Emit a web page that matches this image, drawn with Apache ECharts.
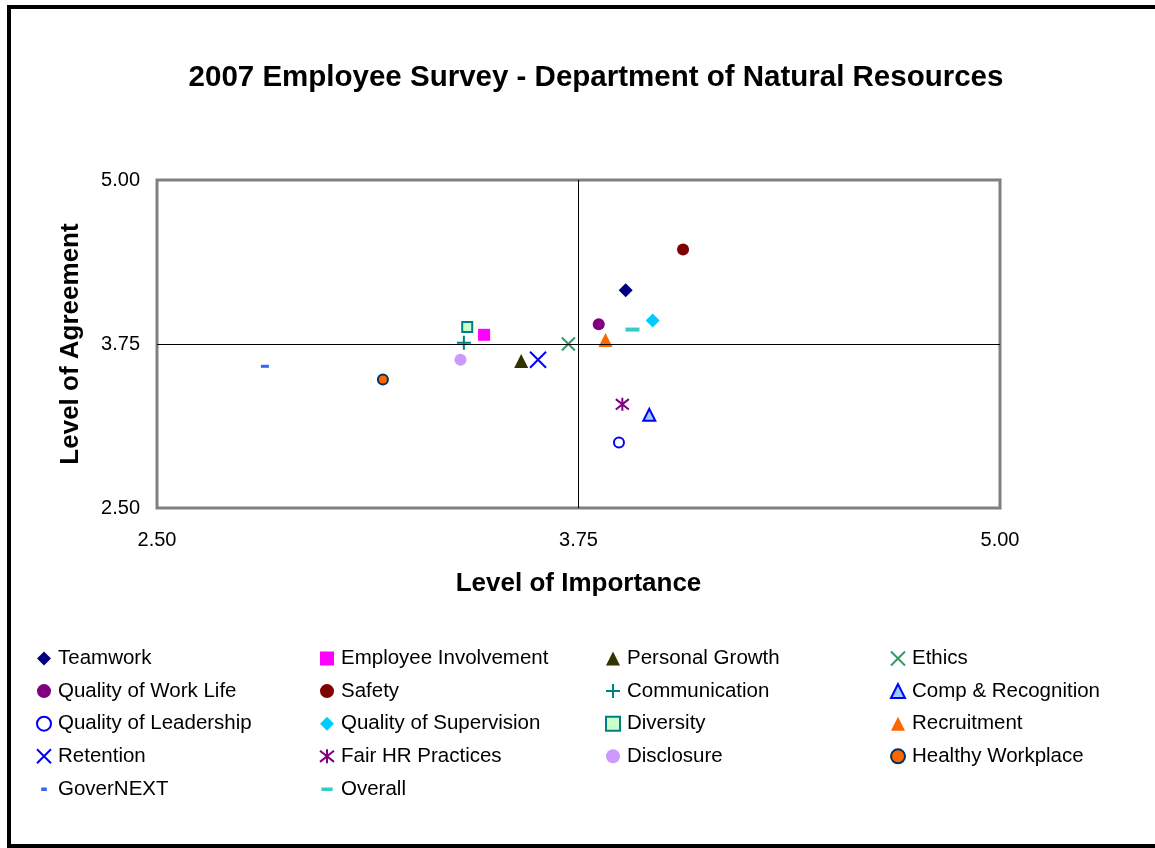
<!DOCTYPE html>
<html>
<head>
<meta charset="utf-8">
<script src="https://cdn.jsdelivr.net/npm/echarts@6/dist/echarts.min.js"></script>
<style>
html,body{margin:0;padding:0;background:#fff;}
#chart{width:1155px;height:848px;}
</style>
</head>
<body>
<div id="chart"></div>
<script>
// ---- data ----
const categories = ['Teamwork','Employee Involvement','Personal Growth','Ethics',
  'Quality of Work Life','Safety','Communication','Comp & Recognition',
  'Quality of Leadership','Quality of Supervision','Diversity','Recruitment',
  'Retention','Fair HR Practices','Disclosure','Healthy Workplace',
  'GoverNEXT','Overall'];
const importance = [3.89,3.47,3.58,3.72, 3.81,4.06,3.41,3.96, 3.87,3.97,3.42,3.83, 3.63,3.88,3.40,3.17, 2.82,3.91];
const agreement  = [4.16,3.82,3.62,3.75, 3.90,4.47,3.76,3.21, 3.00,3.93,3.88,3.78, 3.63,3.29,3.63,3.48, 3.58,3.86];
const xTicks = [2.50, 3.75, 5.00];
const yTicks = [2.50, 3.75, 5.00];
const midValue = 3.75;

// ---- styles ----
const X_PATH = 'path://M0,0L10,10M10,0L0,10';
const PLUS_PATH = 'path://M5,0L5,10M0,5L10,5';
const AST_PATH = 'path://M0,1L10,9M10,1L0,9M5,0L5,10';
const DASH_PATH = 'path://M0,0L10,0L10,4L0,4Z';
const styles = [
  {symbol:'diamond', size:14, color:'#000080'},
  {symbol:'rect', size:12, color:'#FF00FF'},
  {symbol:'triangle', size:14, color:'#333300'},
  {symbol:X_PATH, size:13, color:'transparent', border:'#339966', bw:2},
  {symbol:'circle', size:12, color:'#800080'},
  {symbol:'circle', size:12, color:'#800000'},
  {symbol:PLUS_PATH, size:14, color:'transparent', border:'#008080', bw:2},
  {symbol:'triangle', size:12, color:'#99CCFF', border:'#0000FF', bw:2},
  {symbol:'circle', size:10, color:'#FFFFFF', border:'#0000FF', bw:2},
  {symbol:'diamond', size:14, color:'#00CCFF'},
  {symbol:'rect', size:10, color:'#CCFFCC', border:'#008080', bw:2},
  {symbol:'triangle', size:14, color:'#FF6600'},
  {symbol:X_PATH, size:16, color:'transparent', border:'#0000FF', bw:2},
  {symbol:AST_PATH, size:13, color:'transparent', border:'#800080', bw:2},
  {symbol:'circle', size:12, color:'#CC99FF'},
  {symbol:'circle', size:10, color:'#FF6600', border:'#003366', bw:2},
  {symbol:DASH_PATH, size:[8,3], color:'#3366FF', legendIcon:'path://M0,0M10,10M3,4L7,4L7,6.5L3,6.5Z'},
  {symbol:DASH_PATH, size:[14,4], color:'#33CCCC', legendIcon:'path://M0,0M10,10M1,4L9,4L9,6.5L1,6.5Z'}
];

const series = categories.map((name, i) => {
  const s = styles[i];
  return {
    name: name,
    type: 'scatter',
    symbol: s.symbol,
    symbolSize: s.size,
    itemStyle: {
      color: s.color,
      borderColor: s.border || s.color,
      borderWidth: s.bw || 0,
      opacity: 1
    },
    emphasis: {disabled: true},
    data: [[importance[i], agreement[i]]],
    z: 3
  };
});

// crosshair through the midpoints
series.push({
  name: '__cross',
  type: 'scatter',
  data: [],
  silent: true,
  markLine: {
    silent: true,
    symbol: 'none',
    animation: false,
    label: {show: false},
    lineStyle: {color: '#000', width: 1, type: 'solid'},
    emphasis: {disabled: true},
    data: [{xAxis: midValue}, {yAxis: midValue}]
  },
  z: 1
});

const FONT = 'Arial, "Liberation Sans", sans-serif';

function legendCol(idx, left) {
  const names = [];
  for (let r = 0; r < 5; r++) {
    const k = r * 4 + idx;
    if (k < categories.length) {
      const item = {name: categories[k]};
      if (styles[k].legendIcon) item.icon = styles[k].legendIcon;
      names.push(item);
    }
  }
  return {
    orient: 'vertical',
    left: left,
    top: 648,
    itemWidth: 14,
    itemHeight: 14,
    itemGap: 11.6,
    padding: 0,
    selectedMode: false,
    textStyle: {fontFamily: FONT, fontSize: 20.5, color: '#000', lineHeight: 20, padding: [0,0,0,2]},
    data: names
  };
}

const chart = echarts.init(document.getElementById('chart'), null, {renderer: 'canvas'});
chart.setOption({
  animation: false,
  backgroundColor: '#fff',
  title: {
    text: '2007 Employee Survey - Department of Natural Resources',
    left: 591,
    textAlign: 'center',
    top: 58,
    textStyle: {fontFamily: FONT, fontSize: 29.5, fontWeight: 'bold', color: '#000'}
  },
  graphic: [{
    type: 'rect',
    shape: {x: 9, y: 7, width: 1200, height: 839},
    style: {fill: 'none', stroke: '#000', lineWidth: 4},
    silent: true
  }],
  legend: [legendCol(0, 36), legendCol(1, 319), legendCol(2, 605), legendCol(3, 890)],
  grid: {
    left: 157, right: 155, top: 180, bottom: 340,
    show: true, borderColor: '#808080', borderWidth: 3, backgroundColor: '#fff',
    containLabel: false
  },
  xAxis: {
    type: 'value',
    min: xTicks[0], max: xTicks[xTicks.length - 1], interval: xTicks[1] - xTicks[0],
    name: 'Level of Importance',
    nameLocation: 'middle',
    nameGap: 63,
    nameTextStyle: {fontFamily: FONT, fontSize: 26, fontWeight: 'bold', color: '#000'},
    axisLine: {show: false},
    axisTick: {show: false},
    splitLine: {show: false},
    axisLabel: {fontFamily: FONT, fontSize: 20, color: '#000', margin: 22, formatter: v => v.toFixed(2)}
  },
  yAxis: {
    type: 'value',
    min: yTicks[0], max: yTicks[yTicks.length - 1], interval: yTicks[1] - yTicks[0],
    name: 'Level of Agreement',
    nameLocation: 'middle',
    nameGap: 73,
    nameTextStyle: {fontFamily: FONT, fontSize: 26, fontWeight: 'bold', color: '#000'},
    axisLine: {show: false},
    axisTick: {show: false},
    splitLine: {show: false},
    axisLabel: {fontFamily: FONT, fontSize: 20, color: '#000', margin: 17, formatter: v => v.toFixed(2)}
  },
  series: series
});
</script>
</body>
</html>
